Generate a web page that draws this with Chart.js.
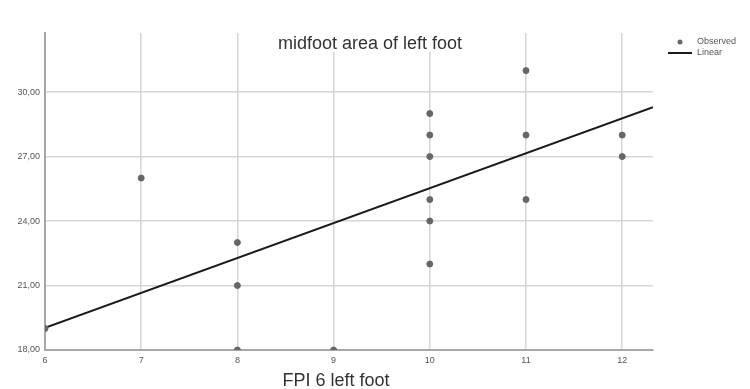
<!DOCTYPE html>
<html>
<head>
<meta charset="utf-8">
<script src="https://cdn.jsdelivr.net/npm/chart.js@4/dist/chart.umd.min.js"></script>
<style>
  body { margin: 0; background: #fff; }
  canvas { display: block; }
</style>
</head>
<body>
<canvas id="chart" width="750" height="389"></canvas>
<script>
// observed points (FPI 6 left foot vs midfoot area)
var obsX = [6, 7, 8, 8, 8, 9, 10, 10, 10, 10, 10, 10, 11, 11, 11, 12, 12];
var obsY = [19, 26, 23, 21, 18, 18, 29, 28, 27, 25, 24, 22, 31, 28, 25, 28, 27];

// fitted line end points
var fitX = [6, 12.32];
var fitY = [19.03, 29.3];

var xTicks = [6, 7, 8, 9, 10, 11, 12];
var yTicks = [18, 21, 24, 27, 30];

var observed = obsX.map(function(x, i) { return { x: x, y: obsY[i] }; });
var linear = fitX.map(function(x, i) { return { x: x, y: fitY[i] }; });

var textPlugin = {
    id: 'texts',
    afterDraw: function(chart) {
        var ctx = chart.ctx;
        ctx.save();
        // title, with white box behind so it hides the grid
        ctx.font = '18px "Liberation Sans", Arial, sans-serif';
        ctx.textAlign = 'center';
        ctx.textBaseline = 'alphabetic';
        var t = 'midfoot area of left foot';
        var w = ctx.measureText(t).width;
        ctx.fillStyle = '#fff';
        ctx.fillRect(370 - w / 2 - 2, 33, w + 4, 19);
        ctx.fillStyle = '#333';
        ctx.fillText(t, 370, 49);

        // x axis title
        ctx.fillText('FPI 6 left foot', 336, 386);

        // legend
        ctx.font = '9px "Liberation Sans", Arial, sans-serif';
        ctx.textAlign = 'left';
        ctx.textBaseline = 'middle';
        ctx.fillStyle = '#666';
        ctx.beginPath();
        ctx.arc(680, 42, 2.5, 0, Math.PI * 2);
        ctx.fill();
        ctx.strokeStyle = '#1a1a1a';
        ctx.lineWidth = 2;
        ctx.beginPath();
        ctx.moveTo(668, 53);
        ctx.lineTo(692, 53);
        ctx.stroke();
        ctx.fillStyle = '#555';
        ctx.fillText('Observed', 697, 42);
        ctx.fillText('Linear', 697, 53);
        ctx.restore();
    }
};

function fmt(v) {
    return v.toFixed(2).replace('.', ',');
}

var ctx = document.getElementById('chart').getContext('2d');
new Chart(ctx, {
    type: 'scatter',
    data: {
        datasets: [{
            label: 'Observed',
            data: observed,
            backgroundColor: '#666',
            borderColor: '#666',
            pointRadius: 3,
            pointHoverRadius: 3
        }, {
            label: 'Linear',
            data: linear,
            showLine: true,
            borderColor: '#1a1a1a',
            borderWidth: 2,
            pointRadius: 0
        }]
    },
    options: {
        responsive: false,
        animation: false,
        layout: { padding: { top: 33, right: 97, bottom: 0, left: 0 } },
        plugins: {
            legend: { display: false },
            tooltip: { enabled: false }
        },
        scales: {
            x: {
                type: 'linear',
                min: 6,
                max: 12.32,
                afterBuildTicks: function(scale) {
                    scale.ticks = xTicks.map(function(v) { return { value: v }; });
                },
                afterFit: function(scale) { scale.height = 39; },
                grid: { color: '#d6d6d6', lineWidth: 1.5, drawTicks: false },
                border: { color: '#a8a8a8', width: 2 },
                ticks: {
                    padding: 5,
                    color: '#555',
                    font: { size: 9, family: '"Liberation Sans", Arial, sans-serif' },
                    maxRotation: 0
                }
            },
            y: {
                min: 18,
                max: 32.75,
                afterBuildTicks: function(scale) {
                    scale.ticks = yTicks.map(function(v) { return { value: v }; });
                },
                afterFit: function(scale) { scale.width = 45; },
                grid: { color: '#d6d6d6', lineWidth: 1.5, drawTicks: false },
                border: { color: '#a8a8a8', width: 2 },
                ticks: {
                    padding: 5,
                    color: '#555',
                    font: { size: 9, family: '"Liberation Sans", Arial, sans-serif' },
                    callback: function(v) { return fmt(v); }
                }
            }
        }
    },
    plugins: [textPlugin]
});
</script>
</body>
</html>
